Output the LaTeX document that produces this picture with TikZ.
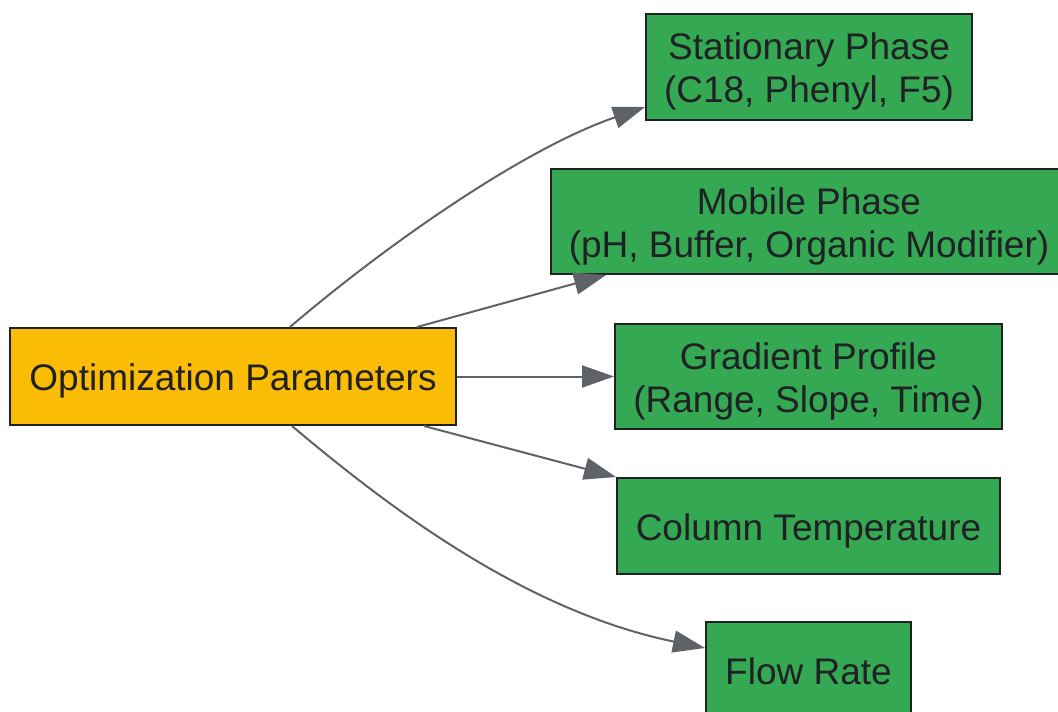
\documentclass[tikz,border=0pt]{standalone}
\usepackage{fontspec}
\setmainfont{Liberation Sans}
\usetikzlibrary{arrows.meta}
\definecolor{gyellow}{HTML}{FBBC05}
\definecolor{ggreen}{HTML}{34A853}
\definecolor{gtext}{HTML}{202124}
\definecolor{gedge}{HTML}{5F6368}
\newcommand{\boxtext}[1]{\raisebox{0pt}[\dimexpr\height+11pt\relax][\depth]{\begin{tabular}{@{}c@{}}#1\end{tabular}}}
\tikzset{
  box/.style={draw=gtext, line width=2pt, text=gtext, align=center, inner sep=0pt,
    font=\fontsize{37}{43}\selectfont},
  root/.style={box, fill=gyellow},
  leaf/.style={box, fill=ggreen},
  conn/.style={draw=gedge, line width=2pt, -{Triangle[length=32pt,width=22pt]}}
}
\begin{document}
\begin{tikzpicture}[x=1pt,y=-1pt]
\useasboundingbox (0,0) rectangle (1058,712);
\begin{scope}
\clip (0,0) rectangle (1058,712);
\node[root, minimum width=446pt, minimum height=97pt] (opt) at (233,376.5) {\boxtext{Optimization Parameters}};
\node[leaf, minimum width=326pt, minimum height=106pt] (sp) at (809,67) {\boxtext{Stationary Phase\\(C18, Phenyl, F5)}};
\node[leaf, minimum width=516pt, minimum height=105pt] (mp) at (809,221.5) {\boxtext{Mobile Phase\\(pH, Buffer, Organic Modifier)}};
\node[leaf, minimum width=387pt, minimum height=105pt] (gp) at (808.5,376.5) {\boxtext{Gradient Profile\\(Range, Slope, Time)}};
\node[leaf, minimum width=383pt, minimum height=96pt] (ct) at (808.5,526) {\boxtext{Column Temperature}};
\node[leaf, minimum width=205pt, minimum height=96pt] (fr) at (808.5,670) {\boxtext{Flow Rate}};
\draw[conn] ([xshift=57pt]opt.north) .. controls (380,250) and (520,150) .. ([yshift=-40pt]sp.west);
\draw[conn] ([xshift=184pt]opt.north) -- ([xshift=-203pt]mp.south);
\draw[conn] (opt.east) -- (gp.west);
\draw[conn] ([xshift=191pt]opt.south) -- (ct.north west);
\draw[conn] ([xshift=59pt]opt.south) .. controls (380,500) and (520,610) .. ([yshift=22pt]fr.west);
\end{scope}
\end{tikzpicture}
\end{document}
